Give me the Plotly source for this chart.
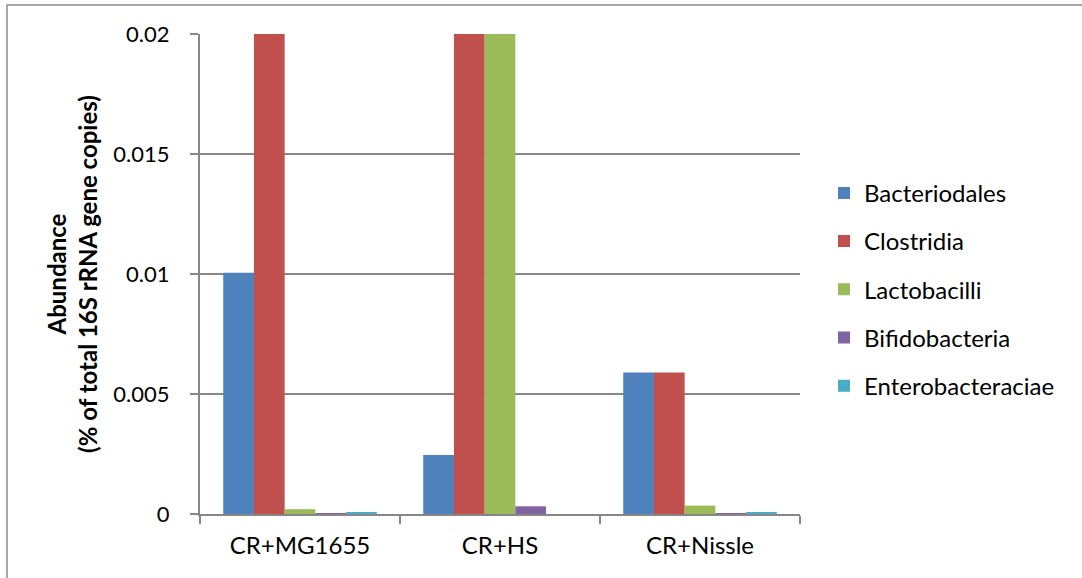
import plotly.graph_objects as go

# Groups on the x axis
groups = ["CR+MG1655", "CR+HS", "CR+Nissle"]

# Abundance (% of total 16S rRNA gene copies) per taxon and group
bacteriodales = [0.01005, 0.00246, 0.0059]
clostridia = [0.0215, 0.0228, 0.0059]
lactobacilli = [0.0002, 0.0212, 0.00035]
bifidobacteria = [0.00002, 0.00032, 0.00002]
enterobacteraciae = [0.00008, 0.0, 0.00008]

series_names = ["Bacteriodales", "Clostridia", "Lactobacilli", "Bifidobacteria", "Enterobacteraciae"]
series_values = [bacteriodales, clostridia, lactobacilli, bifidobacteria, enterobacteraciae]
series_colors = ["#4F81BD", "#C0504D", "#9BBB59", "#8064A2", "#4BACC6"]

FONT = "Lato"
GRID = "#878787"

fig = go.Figure()
for name, vals, color in zip(series_names, series_values, series_colors):
    fig.add_trace(go.Bar(
        x=groups, y=vals, name=name, legendgroup=name,
        marker=dict(color=color, line=dict(width=0)),
    ))

fig.update_layout(
    width=1082, height=578,
    margin=dict(l=200, r=282, t=34, b=64),
    paper_bgcolor="white", plot_bgcolor="white",
    barmode="group", bargap=0.2325, bargroupgap=0,
    font=dict(family=FONT, size=24, color="#000000"),
    legend=dict(
        x=1.04, y=0.715, xanchor="left", yanchor="top",
        font=dict(family=FONT, size=24, color="#000000"),
        tracegroupgap=14, itemwidth=30, bgcolor="rgba(0,0,0,0)",
    ),
    showlegend=True,
)

fig.update_xaxes(
    showgrid=False, showline=True, linecolor=GRID, linewidth=2,
    ticks="outside", tickson="boundaries", ticklen=8, tickwidth=2, tickcolor=GRID,
    tickfont=dict(family=FONT, size=24), ticklabelstandoff=9,
)
fig.update_yaxes(
    range=[0, 0.02], dtick=0.005, tick0=0,
    showgrid=True, gridcolor=GRID, gridwidth=1.5,
    showline=True, linecolor=GRID, linewidth=2,
    ticks="outside", ticklen=8, tickwidth=1.5, tickcolor=GRID,
    tickfont=dict(family=FONT, size=22), ticklabelstandoff=16,
    zeroline=False,
    title=dict(
        text="<b>Abundance</b><br><b>(% of total 16S rRNA gene copies)</b>",
        font=dict(family=FONT, size=24), standoff=9,
    ),
)

# Outer chart frame
fig.add_shape(
    type="rect", xref="paper", yref="paper",
    x0=(7 - 200) / 600, x1=(1090 - 200) / 600,
    y0=(514 - 590) / 480, y1=(514 - 5) / 480,
    line=dict(color="#8c8c8c", width=1.5), fillcolor="rgba(0,0,0,0)", layer="below",
)

fig.write_html("out.html")
